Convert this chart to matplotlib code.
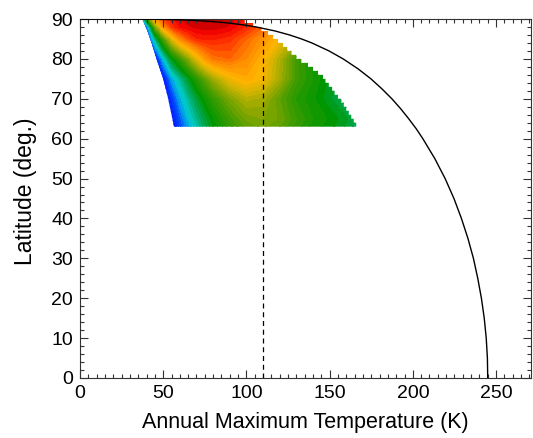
import numpy as np
import matplotlib
matplotlib.use('Agg')
import matplotlib.pyplot as plt
from matplotlib.colors import LinearSegmentedColormap
from matplotlib.patches import PathPatch
from matplotlib.path import Path
from matplotlib.ticker import MultipleLocator

plt.rcParams['font.family'] = ['Liberation Sans', 'DejaVu Sans']

# ── data ──────────────────────────────────────────────────────────────────
# black curve: annual max temperature vs latitude
curve_lat = [0, 5, 10, 15, 20, 25, 30, 35, 40, 45, 50, 55, 60, 62.5, 65, 67.5,
             70, 72.5, 75, 77.5, 80, 82, 84, 85, 86, 87, 88, 88.5, 89, 89.3,
             89.5, 89.7, 89.8, 89.9, 89.95, 89.98, 90]
curve_temp = [245, 244.8, 244.1, 242.9, 241.2, 239.0, 236.4, 233.1, 229.2, 224.7,
              219.4, 213.2, 206.0, 202.0, 197.5, 192.7, 187.4, 181.4, 174.8,
              167.1, 158.1, 149.6, 139.3, 133.1, 125.9, 117.2, 105.9, 98.6, 89.0,
              81.5, 74.9, 65.9, 59.6, 50.1, 42.1, 33.5, 0]

threshold_temp = 110
threshold_top_lat = 87.6

# colour field, rows = latitude, columns = temperature (0 = blue, 1 = dark red)
field_temp = [30, 35, 40, 45, 50, 55, 60, 65, 70, 75, 80, 90, 100, 110, 120,
              130, 140, 150, 160, 170]
field_lat = [63, 65, 70, 75, 80, 85, 88, 90]
row_63 = [-0.40, -0.33, -0.27, -0.20, -0.12, -0.03, 0.07, 0.15, 0.22, 0.29, 0.35,
          0.44, 0.51, 0.53, 0.50, 0.44, 0.39, 0.36, 0.32, 0.27]
row_65 = [-0.38, -0.30, -0.24, -0.17, -0.09, 0.00, 0.09, 0.18, 0.25, 0.31, 0.37,
          0.46, 0.53, 0.55, 0.52, 0.45, 0.40, 0.37, 0.33, 0.28]
row_70 = [-0.35, -0.27, -0.20, -0.13, -0.05, 0.05, 0.16, 0.24, 0.31, 0.38, 0.44,
          0.54, 0.61, 0.59, 0.50, 0.42, 0.38, 0.33, 0.28, 0.24]
row_75 = [-0.30, -0.23, -0.16, -0.08, 0.00, 0.15, 0.24, 0.33, 0.42, 0.50, 0.58,
          0.69, 0.74, 0.70, 0.59, 0.46, 0.40, 0.34, 0.30, 0.26]
row_80 = [-0.30, -0.22, -0.12, -0.02, 0.18, 0.34, 0.44, 0.55, 0.67, 0.77, 0.83,
          0.85, 0.80, 0.72, 0.60, 0.46, 0.38, 0.33, 0.30, 0.26]
row_85 = [-0.25, -0.12, -0.02, 0.25, 0.47, 0.66, 0.80, 0.87, 0.92, 0.93, 0.93,
          0.91, 0.85, 0.78, 0.70, 0.60, 0.50, 0.42, 0.36, 0.30]
row_88 = [-0.25, -0.10, 0.10, 0.52, 0.77, 0.90, 0.95, 0.97, 0.98, 0.99, 0.99,
          0.97, 0.92, 0.85, 0.76, 0.68, 0.60, 0.50, 0.42, 0.36]
row_90 = [-0.20, -0.05, 0.40, 0.75, 0.88, 0.94, 0.97, 0.99, 1.00, 1.01, 1.01,
          0.99, 0.94, 0.88, 0.80, 0.72, 0.62, 0.52, 0.44, 0.38]

# outline of the coloured region
left_lat = [63, 66, 70, 75, 80, 84, 87, 89, 90]
left_temp = [56.5, 55, 53, 50, 46, 43, 40.5, 38.5, 37.5]
right_lat = [63, 64, 65, 66, 67, 68, 69, 70, 71, 72, 73, 74, 75, 76, 77, 78, 79,
             80, 81, 82, 83, 84, 85, 86, 87, 88, 89]
right_temp = [166, 164.5, 163, 161.5, 160, 158.5, 157, 155, 153, 151.5, 149.5,
              147.5, 146, 143, 140, 137, 133, 130, 127, 124.5, 122, 119, 116,
              113, 109, 104, 99]

# ── colours ──────────────────────────────────────────────────────────────
cmap = LinearSegmentedColormap.from_list('field', [
    (0.00, (0 / 255, 20 / 255, 255 / 255)),
    (0.08, (0 / 255, 70 / 255, 255 / 255)),
    (0.14, (0 / 255, 150 / 255, 235 / 255)),
    (0.20, (0 / 255, 205 / 255, 205 / 255)),
    (0.28, (0 / 255, 170 / 255, 100 / 255)),
    (0.36, (0 / 255, 150 / 255, 0 / 255)),
    (0.46, (60 / 255, 155 / 255, 0 / 255)),
    (0.55, (130 / 255, 165 / 255, 0 / 255)),
    (0.65, (210 / 255, 180 / 255, 0 / 255)),
    (0.72, (255 / 255, 180 / 255, 0 / 255)),
    (0.82, (255 / 255, 130 / 255, 0 / 255)),
    (0.92, (255 / 255, 40 / 255, 0 / 255)),
    (0.97, (240 / 255, 0 / 255, 0 / 255)),
    (1.00, (190 / 255, 0 / 255, 0 / 255)),
])

fig = plt.figure(figsize=(5.33, 4.38), dpi=100)
ax = fig.add_axes([80 / 533, 60 / 438, 451 / 533, 359 / 438])

field = np.array([row_63, row_65, row_70, row_75, row_80, row_85, row_88, row_90])
cf = ax.contourf(field_temp, field_lat, field, levels=np.linspace(0, 1, 41),
                 cmap=cmap, extend='both', zorder=1)

# clip the field to the region outline (stepped on the warm side)
rl = np.array(right_lat, dtype=float)
rt = np.array(right_temp, dtype=float)
step_x = np.repeat(rt[::-1], 2)
step_y = np.column_stack([rl[::-1] + 1, rl[::-1]]).ravel()
verts = list(zip(left_temp, left_lat)) + list(zip(step_x, step_y)) + [(left_temp[0], left_lat[0])]
codes = [Path.MOVETO] + [Path.LINETO] * (len(verts) - 2) + [Path.CLOSEPOLY]
patch = PathPatch(Path(verts, codes), transform=ax.transData)
cf.set_clip_path(patch)

ax.plot(curve_temp, curve_lat, color='black', lw=1.0, zorder=3)
ax.plot([threshold_temp, threshold_temp], [0, threshold_top_lat], color='black',
        lw=0.9, ls=(0, (4, 3)), zorder=3)

ax.set_xlim(0, 271)
ax.set_ylim(0, 90)
ax.xaxis.set_major_locator(MultipleLocator(50))
ax.xaxis.set_minor_locator(MultipleLocator(5))
ax.yaxis.set_major_locator(MultipleLocator(10))
ax.yaxis.set_minor_locator(MultipleLocator(2))
ax.tick_params(which='both', direction='in', top=True, right=True, labelsize=14,
               color='#333333', width=0.8)
ax.tick_params(which='major', length=6, pad=5)
ax.tick_params(which='minor', length=3)
for s in ax.spines.values():
    s.set_linewidth(0.8)
    s.set_color('#333333')

ax.set_xlabel('Annual Maximum Temperature (K)', fontsize=15.5, labelpad=7)
ax.set_ylabel('Latitude (deg.)', fontsize=16.5)
ax.yaxis.set_label_coords(-0.095, 0.52)

fig.savefig('out.png', dpi=100)
